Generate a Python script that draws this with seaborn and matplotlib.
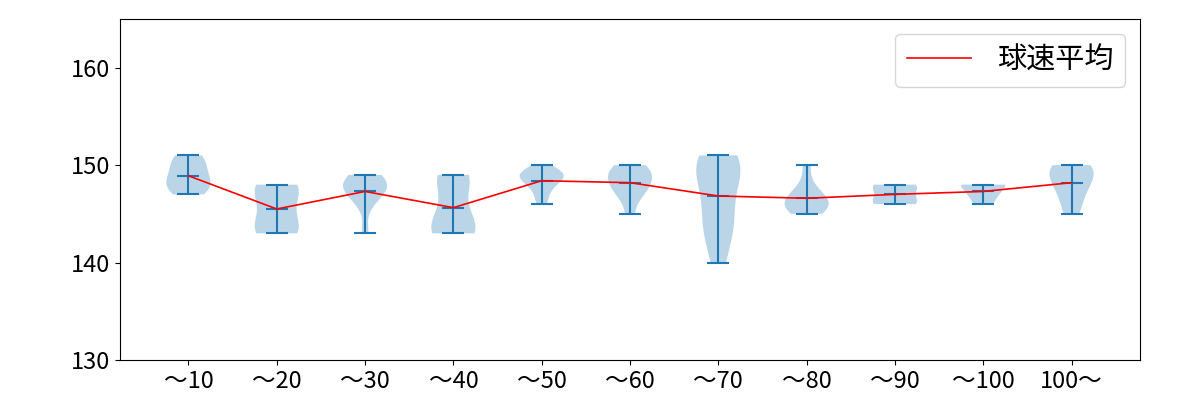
import pandas as pd
import seaborn as sns
from matplotlib import pyplot as plt

plt.rcParams['font.family'] = ['Noto Sans CJK JP', 'DejaVu Sans']

labels = ['〜10', '〜20', '〜30', '〜40', '〜50', '〜60', '〜70', '〜80', '〜90', '〜100', '100〜']

# pitch speeds (km/h) per pitch-count bin
s10 = [147, 147, 148, 148, 149, 149, 150, 150, 151, 151, 148]
s20 = [143, 143, 143, 144, 145, 146, 147, 148, 148, 148]
s30 = [143, 146, 147, 148, 148, 149, 149, 148, 148, 147]
s40 = [143, 143, 143, 143, 144, 145, 146, 148, 149, 149, 149]
s50 = [146, 147, 148, 149, 149, 149, 149, 149, 148, 150]
s60 = [145, 147, 148, 149, 149, 150, 150, 148, 149, 147]
s70 = [140, 142, 144, 145, 147, 149, 149, 150, 150, 151, 151, 144]
s80 = [145, 145, 146, 146, 146, 146, 147, 147, 148, 150]
s90 = [146, 146, 146, 147, 147, 148, 148, 148]
s100 = [146, 147, 147, 148, 148, 148, 148, 148, 147, 146]
s100over = [145, 146, 147, 148, 149, 149, 150, 150, 150, 148]

samples = [s10, s20, s30, s40, s50, s60, s70, s80, s90, s100, s100over]

rows = []
for i, vals in enumerate(samples):
    for v in vals:
        rows.append({'pos': i + 1, 'speed': v})
df = pd.DataFrame(rows)
means = df.groupby('pos', as_index=False)['speed'].mean()

fig, ax = plt.subplots(figsize=(12, 4), dpi=100)
plt.subplots_adjust(left=0.1, right=0.95, bottom=0.1, top=0.9525)

ax.violinplot(samples, positions=range(1, len(samples) + 1), showmeans=True)
sns.lineplot(data=means, x='pos', y='speed', color='red', linewidth=1.2,
             label='球速平均', ax=ax)

ax.set_ylim(130, 165)
ax.set_yticks([130, 140, 150, 160])
ax.set_xticks(range(1, len(labels) + 1))
ax.set_xticklabels(labels)
ax.tick_params(labelsize=17)
ax.set_xlabel('')
ax.set_ylabel('')
ax.legend(loc='upper right', fontsize=21, handlelength=2.2, handletextpad=0.9)

plt.savefig('out.png')
